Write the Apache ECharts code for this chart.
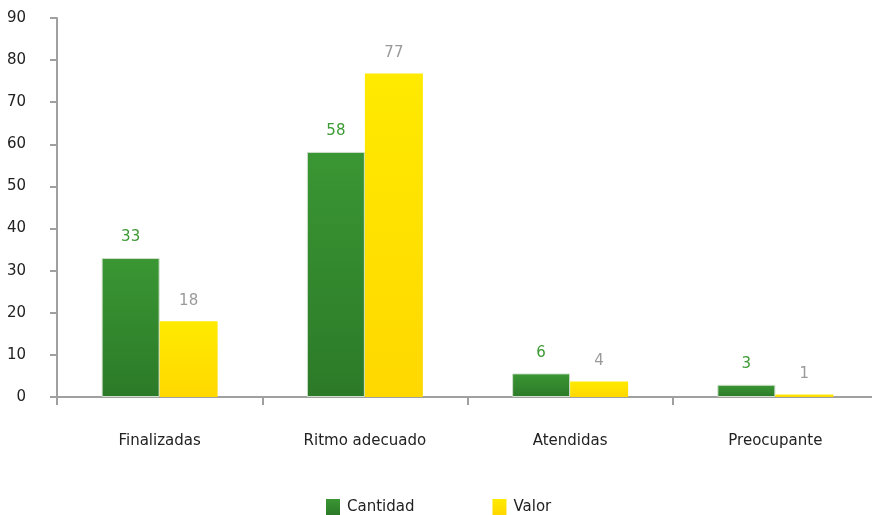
<!DOCTYPE html>
<html><head><meta charset="utf-8">
<script src="https://cdn.jsdelivr.net/npm/echarts@6/dist/echarts.min.js"></script>
<style>html,body{margin:0;padding:0;background:#fff}#c{width:872px;height:515px}</style>
</head><body><div id="c"></div>
<script>
const categories = ['Finalizadas', 'Ritmo adecuado', 'Atendidas', 'Preocupante'];
const cantidad = [33, 58.2, 5.6, 2.9];
const valor = [18, 76.8, 3.7, 0.6];
const yTicks = [0, 10, 20, 30, 40, 50, 60, 70, 80, 90];

const font = '"DejaVu Sans", Verdana, sans-serif';
const chart = echarts.init(document.getElementById('c'));
chart.setOption({
  animation: false,
  textStyle: { fontFamily: font },
  grid: { left: 57, width: 821, top: 18, bottom: 118, containLabel: false, outerBoundsMode: 'none' },
  legend: {
    top: 494, left: 321,
    itemWidth: 14, itemHeight: 16, itemGap: 78,
    icon: 'rect',
    itemStyle: { borderWidth: 0 },
    textStyle: { fontSize: 15, color: '#222', fontFamily: font, padding: [2, 0, 0, 2] },
    data: ['Cantidad', 'Valor']
  },
  xAxis: {
    type: 'category', data: categories,
    axisLine: { lineStyle: { color: '#a0a0a0', width: 2 } },
    axisTick: { show: true, length: 8, lineStyle: { color: '#a0a0a0', width: 2 } },
    axisLabel: { color: '#222', fontSize: 15, margin: 37, fontFamily: font }
  },
  yAxis: {
    type: 'value', min: yTicks[0], max: yTicks[yTicks.length - 1], interval: 10,
    axisLine: { show: true, lineStyle: { color: '#a0a0a0', width: 2 } },
    axisTick: { show: true, length: 7, lineStyle: { color: '#a0a0a0', width: 2 } },
    splitLine: { show: false },
    axisLabel: { color: '#222', fontSize: 15, margin: 31, align: 'right', fontFamily: font }
  },
  series: [
    {
      name: 'Cantidad', type: 'bar', data: cantidad,
      barWidth: 58, barGap: '0%',
      itemStyle: {
        color: new echarts.graphic.LinearGradient(0, 0, 0, 1, [
          { offset: 0, color: '#3a9633' }, { offset: 1, color: '#2c7a28' }
        ]),
        borderColor: '#cfe0cc', borderWidth: 1
      },
      label: {
        show: true, position: 'top', distance: 13, color: '#3c9a34', fontSize: 15, fontFamily: font,
        formatter: p => Math.round(p.value)
      }
    },
    {
      name: 'Valor', type: 'bar', data: valor,
      barWidth: 58,
      itemStyle: {
        color: new echarts.graphic.LinearGradient(0, 0, 0, 1, [
          { offset: 0, color: '#ffea00' }, { offset: 1, color: '#ffd800' }
        ])
      },
      label: {
        show: true, position: 'top', distance: 13, color: '#9a9a9a', fontSize: 15, fontFamily: font,
        formatter: p => Math.round(p.value)
      }
    }
  ]
});
</script></body></html>
